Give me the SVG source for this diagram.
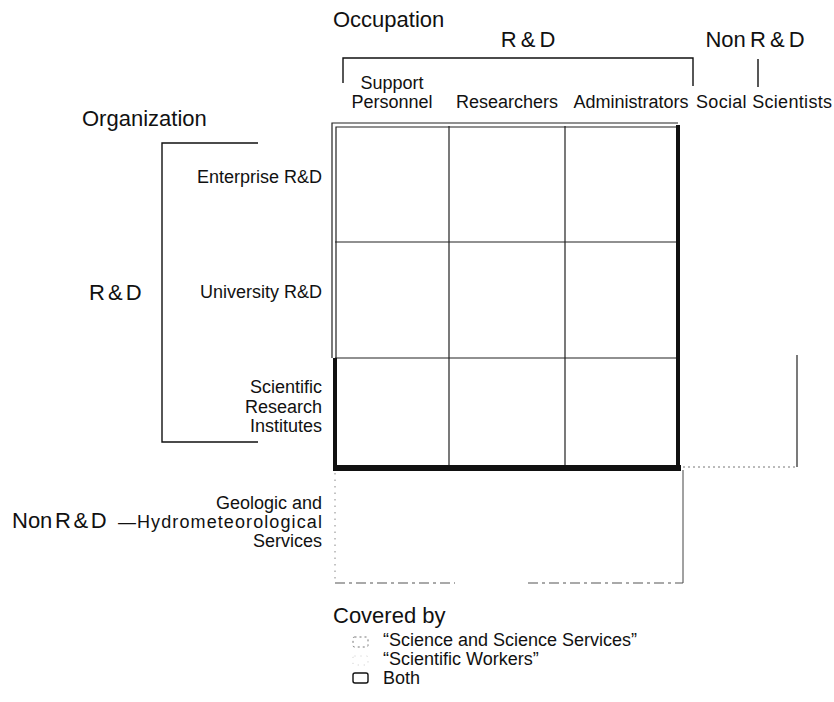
<svg xmlns="http://www.w3.org/2000/svg" width="834" height="702" viewBox="0 0 834 702">
<style>
text{font-family:"Liberation Sans",Arial,sans-serif;fill:#111}
.h{font-size:22px}
.l{font-size:18px}
.r{text-anchor:end}
.m{text-anchor:middle}
.ln{stroke:#111;stroke-width:1.4;fill:none}
.grid{stroke:#222;stroke-width:1.2;fill:none}
.thick{stroke:#111;fill:none}
.dash{stroke:#555;stroke-width:1.1;fill:none;stroke-dasharray:10 4 3 4}
.dot{stroke:#777;stroke-width:1;fill:none;stroke-dasharray:2 3}
</style>
<rect width="834" height="702" fill="#fff"/>

<g id="occupation-header">
<text class="h" x="333" y="27">Occupation</text>
<text class="h m" x="528" y="47" word-spacing="-2">R &amp; D</text>
<text class="h m" x="755" y="47" word-spacing="-2">Non R &amp; D</text>
</g>

<g id="connectors">
<path class="ln" d="M343,83 V58 H693 V86"/>
<path class="ln" d="M758,59 V87"/>
<path class="ln" d="M258,143 H162 V442 H258"/>
</g>

<g id="col-support"><text class="l m" x="392" y="89">Support</text><text class="l m" x="392" y="108">Personnel</text></g>
<g id="col-researchers"><text class="l m" x="507" y="108">Researchers</text></g>
<g id="col-administrators"><text class="l m" x="631" y="108">Administrators</text></g>
<g id="col-social"><text class="l m" x="764" y="108" textLength="136">Social Scientists</text></g>

<g id="organization-header">
<text class="h" x="82" y="126">Organization</text>
<text class="h" x="89" y="300" word-spacing="-3">R &amp; D</text>
</g>

<g id="row-enterprise"><text class="l r" x="322" y="183">Enterprise R&amp;D</text></g>
<g id="row-university"><text class="l r" x="322" y="298">University R&amp;D</text></g>
<g id="row-institutes">
<text class="l r" x="322" y="393">Scientific</text>
<text class="l r" x="322" y="413">Research</text>
<text class="l r" x="322" y="432">Institutes</text>
</g>
<g id="row-geologic">
<text class="h" x="12" y="528" font-size="18.5" word-spacing="-3.5">Non R &amp; D</text>
<text class="l r" x="322" y="509">Geologic and</text>
<text class="l r" x="323" y="528" font-size="19.5" letter-spacing="1.1">—Hydrometeorological</text>
<text class="l r" x="322" y="547">Services</text>
</g>

<g id="matrix">
<path class="grid" d="M332,358 V123 H678" stroke="#555"/>
<path class="grid" d="M336,358 V127 H678" stroke-width="1.6"/>
<path class="grid" d="M449,126 V468 M565,126 V468 M335,242 H678 M335,358 H678"/>
<path class="thick" stroke-width="4" d="M335,358 V470"/>
<path class="thick" stroke-width="4" d="M678,125 V470"/>
<path class="thick" stroke-width="6" d="M333,468 H681"/>
</g>

<g id="non-rd-area">
<path stroke="#888" stroke-width="1" fill="none" stroke-dasharray="1.5 5" d="M335,473 V583"/>
<path class="dash" d="M335,583 H455 M528,583 H683"/>
<path stroke="#444" stroke-width="1" fill="none" d="M683,470 V583"/>
<path class="dot" d="M683,467 H797"/>
<path stroke="#222" stroke-width="1.2" fill="none" d="M797,355 V467"/>
</g>

<g id="legend">
<text class="h" x="333" y="623" font-size="21">Covered by</text>
<rect x="353" y="637" width="15" height="10" rx="1.5" class="dot" stroke="#555"/>
<text class="l" x="383" y="646">“Science and Science Services”</text>
<rect x="353" y="656" width="15" height="9" rx="1.5" fill="none" stroke="#bbb" stroke-width="0.8" stroke-dasharray="1 5"/>
<text class="l" x="383" y="665">“Scientific Workers”</text>
<rect x="353" y="673" width="15" height="10" rx="2" fill="none" stroke="#111" stroke-width="1.4"/>
<text class="l" x="383" y="684">Both</text>
</g>
</svg>
